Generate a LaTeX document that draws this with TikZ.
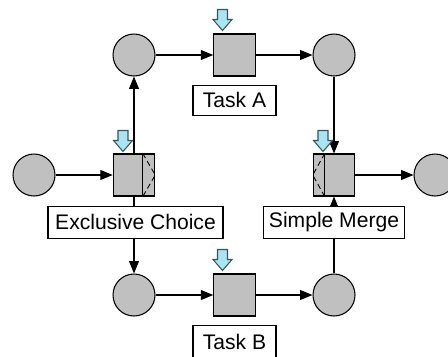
\documentclass[tikz,border=0pt]{standalone}
\usepackage{fontspec}
\setmainfont{Liberation Sans}
\usepackage{tikz}
\usetikzlibrary{calc, positioning, arrows.meta, shapes}
\usepackage{xcolor}
\definecolor{silver}{RGB}{192,192,192}
\definecolor{trigfill}{RGB}{168,228,242}
\definecolor{trigline}{RGB}{55,85,95}

\tikzset{
    place/.style={circle, draw, line width=0.6pt, fill=silver, minimum size=0.84cm, inner sep=0pt},
    task/.style={rectangle, draw, line width=0.6pt, fill=silver, minimum width=0.83cm, minimum height=0.84cm, inner sep=0pt},
    tag/.style={rectangle, draw, line width=0.6pt, fill=white, minimum height=0.62cm, inner sep=0pt,
                font=\fontsize{12}{14}\selectfont},
    flow/.style={-{Triangle[length=7pt,width=5.6pt]}, line width=0.6pt},
    pics/trig/.style={code={
        \draw[trigline, fill=trigfill, line width=0.6pt, line join=miter]
            (0,0) -- (-9.5,-11) -- (-5,-11) -- (-5,-21) -- (5,-21) -- (5,-11) -- (9.5,-11) -- cycle;
    }}
}

\begin{document}
\begin{tikzpicture}[x=0.02cm, y=-0.02cm]
            \useasboundingbox (0,0) rectangle (448,356);

            \node[place] (start) at (34,175) {};
            \node[task]  (xor)   at (134,175) {};
            \node[place] (pa1)   at (134,55) {};
            \node[task]  (taska) at (234.5,55) {};
            \node[place] (pa2)   at (334,55) {};
            \node[place] (pb1)   at (134,295) {};
            \node[task]  (taskb) at (234.5,295) {};
            \node[place] (pb2)   at (334,295) {};
            \node[task]  (merge) at (334,175) {};
            \node[place] (end)   at (435,175) {};

            \draw[line width=0.6pt] ($(xor.north west)+(30,0)$) coordinate (xa) -- ($(xor.south west)+(30,0)$) coordinate (xb);
            \draw[densely dashed, line width=0.5pt] (xa) -- (xor.east) -- (xb);
            \draw[line width=0.6pt] ($(merge.north west)+(12,0)$) coordinate (ma) -- ($(merge.south west)+(12,0)$) coordinate (mb);
            \draw[densely dashed, line width=0.5pt] (ma) -- (merge.west) -- (mb);

            \draw[flow] (start) -- (xor);
            \draw[flow] (xor) -- (pa1);
            \draw[flow] (xor) -- (pb1);
            \draw[flow] (pa1) -- (taska);
            \draw[flow] (taska) -- (pa2);
            \draw[flow] (pa2) -- (merge);
            \draw[flow] (pb1) -- (taskb);
            \draw[flow] (taskb) -- (pb2);
            \draw[flow] (pb2) -- (merge);
            \draw[flow] (merge) -- (end);

            \node[tag, minimum width=1.66cm, minimum height=0.6cm, below=0.16cm of taska] (taskatag) {Task A};
            \node[tag, minimum width=1.66cm, minimum height=0.66cm, below=0.16cm of taskb] (taskbtag) {Task B};
            \node[tag, minimum width=3.5cm, minimum height=0.64cm, below=0.18cm of xor, xshift=0.03cm] (xortag) {Exclusive Choice};
            \node[tag, minimum width=2.82cm, minimum height=0.64cm, below=0.18cm of merge] (mergetag) {Simple Merge};

            \pic at ($(taska.north)+(-12,-3)$) {trig};
            \pic at ($(taskb.north)+(-12,-3)$) {trig};
            \pic at ($(xor.north)+(-11,-2)$) {trig};
            \pic at ($(merge.north)+(-11,-2)$) {trig};
        \end{tikzpicture}
\end{document}
